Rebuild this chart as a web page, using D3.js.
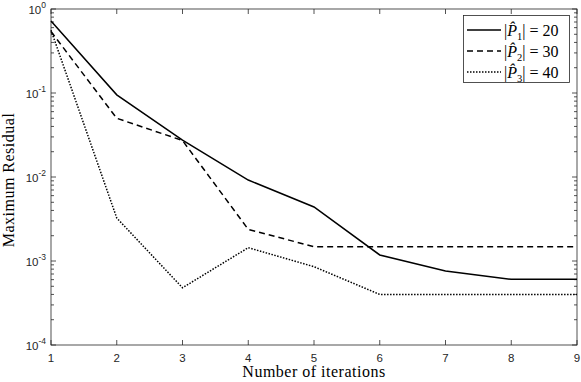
<!DOCTYPE html>
<html>
<head>
<meta charset="utf-8">
<script src="https://cdn.jsdelivr.net/npm/d3@7"></script>
<style>
  body { margin: 0; background: #fff; }
</style>
</head>
<body>
<svg id="chart" width="581" height="382"></svg>
<script>
'use strict';

/* data */
var iterations = [1, 2, 3, 4, 5, 6, 7, 8, 9];
var p1 = [0.72, 0.095, 0.0275, 0.0092, 0.0044, 0.00118, 0.00076, 0.000605, 0.000605];
var p2 = [0.54, 0.050, 0.0272, 0.00238, 0.00148, 0.00148, 0.00148, 0.00148, 0.00148];
var p3 = [0.56, 0.00325, 0.00048, 0.00144, 0.000855, 0.0004, 0.0004, 0.0004, 0.0004];
var seriesNames = [["1", "20"], ["2", "30"], ["3", "40"]];
var yTickExps = [0, -1, -2, -3, -4];
var xTicks = [1, 2, 3, 4, 5, 6, 7, 8, 9];

(function () {
  var svg = d3.select("#chart"),
      mL = 51, mR = 577, mT = 9, mB = 345,
      axisCol = "#262626",
      sans = "Liberation Sans, Arial, sans-serif",
      serif = "Liberation Serif, Times New Roman, serif";

  var x = d3.scaleLinear().domain([1, 9]).range([mL, mR]),
      y = d3.scaleLog().domain([1e-4, 1]).range([mB, mT]);

  /* minor log ticks */
  var minor = [];
  [-4, -3, -2, -1].forEach(function(e) {
    for (var k = 2; k <= 9; k++) minor.push(k * Math.pow(10, e));
  });

  var g = svg.append("g");

  function tick(x1, y1, x2, y2) {
    g.append("line").attr("x1", x1).attr("x2", x2).attr("y1", y1).attr("y2", y2)
      .attr("stroke", axisCol).attr("stroke-width", 0.8);
  }

  /* box */
  g.append("rect")
    .attr("x", mL).attr("y", mT)
    .attr("width", mR - mL).attr("height", mB - mT)
    .attr("fill", "none").attr("stroke", axisCol).attr("stroke-width", 0.8);

  /* x ticks bottom and top */
  xTicks.forEach(function(t) {
    tick(x(t), mB, x(t), mB - 5);
    tick(x(t), mT, x(t), mT + 5);
    g.append("text").attr("x", x(t)).attr("y", mB + 17)
      .attr("text-anchor", "middle")
      .style("font-family", sans).style("font-size", "11.5px")
      .attr("fill", axisCol).text(t);
  });

  /* y ticks left and right */
  yTickExps.forEach(function(e) {
    var v = Math.pow(10, e);
    tick(mL, y(v), mL + 5, y(v));
    tick(mR, y(v), mR - 5, y(v));
    var t = g.append("text").attr("x", mL - 5).attr("y", y(v) + 4.5)
      .attr("text-anchor", "end")
      .style("font-family", sans).style("font-size", "11.5px")
      .attr("fill", axisCol);
    t.append("tspan").text("10");
    t.append("tspan").attr("dy", -6).style("font-size", "8.5px").text(e);
  });
  minor.forEach(function(v) {
    tick(mL, y(v), mL + 3, y(v));
    tick(mR, y(v), mR - 3, y(v));
  });

  /* axis labels */
  g.append("text").attr("x", (mL + mR) / 2).attr("y", 377)
    .attr("text-anchor", "middle")
    .style("font-family", serif).style("font-size", "16px")
    .style("letter-spacing", "0.5px")
    .text("Number of iterations");
  g.append("text").attr("transform", "translate(14,180) rotate(-90)")
    .attr("text-anchor", "middle")
    .style("font-family", serif).style("font-size", "16px")
    .style("letter-spacing", "0.5px")
    .text("Maximum Residual");

  /* series lines */
  var dashes = [null, "6,4", "1.5,1.5"];
  var line = d3.line()
    .x(function(d, i) { return x(iterations[i]); })
    .y(function(d) { return y(d); });
  [p1, p2, p3].forEach(function(s, i) {
    g.append("path").datum(s).attr("d", line)
      .attr("fill", "none").attr("stroke", "#000").attr("stroke-width", 1.5)
      .attr("stroke-dasharray", dashes[i]);
  });

  /* legend */
  var lg = svg.append("g");
  lg.append("rect").attr("x", 463.5).attr("y", 15.5).attr("width", 106).attr("height", 67)
    .attr("fill", "#fff").attr("stroke", axisCol).attr("stroke-width", 0.8);
  seriesNames.forEach(function(n, i) {
    var yy = 30 + i * 21;
    lg.append("line").attr("x1", 467).attr("x2", 501).attr("y1", yy).attr("y2", yy)
      .attr("stroke", "#000").attr("stroke-width", 1.5).attr("stroke-dasharray", dashes[i]);
    var t = lg.append("text").attr("x", 504).attr("y", yy + 5.5)
      .style("font-family", serif).style("font-size", "16px")
      .style("white-space", "pre");
    t.append("tspan").text("|");
    t.append("tspan").style("font-style", "italic").text("P\u0302");
    t.append("tspan").attr("dy", 4).style("font-size", "10.5px").text(n[0]);
    t.append("tspan").attr("dy", -4).text("| = " + n[1]);
  });
})();
</script>
</body>
</html>
